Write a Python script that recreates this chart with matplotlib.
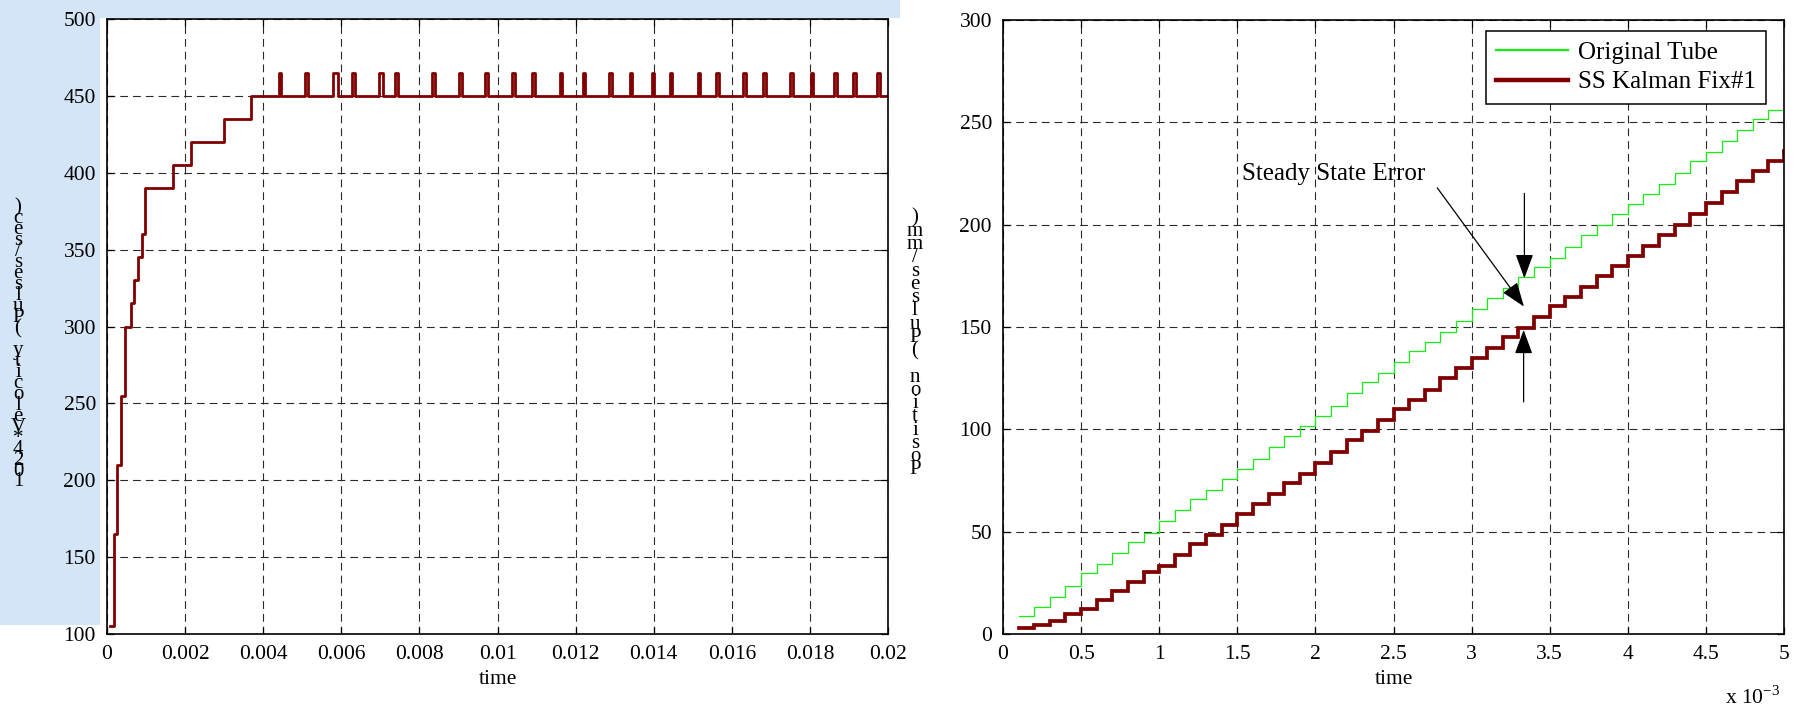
import matplotlib
matplotlib.use("Agg")
import matplotlib.pyplot as plt
from matplotlib.patches import Rectangle
from matplotlib.lines import Line2D

plt.rcParams['font.family'] = ['Liberation Serif', 'DejaVu Serif']
plt.rcParams['mathtext.fontset'] = 'custom'
plt.rcParams['mathtext.rm'] = 'Liberation Serif'

# ---------------- data: left panel (velocity) ----------------
rise_t = [0.00008, 0.000167, 0.000265, 0.000354, 0.000452, 0.000609, 0.000698,
          0.000786, 0.000884, 0.000973, 0.00168, 0.00216, 0.0030, 0.0037]
rise_v = [105, 165, 210, 255, 300, 315, 330, 345, 360, 390, 405, 420, 435, 450]
base_level = 450
pulse_level = 465
pulse_center = [0.004431, 0.005103, 0.005859, 0.006318, 0.007013, 0.007415,
                0.008354, 0.009051, 0.009726, 0.010418, 0.010923, 0.011623,
                0.012218, 0.012885, 0.013421, 0.013979, 0.014444, 0.015159,
                0.015636, 0.016328, 0.016833, 0.017533, 0.018056, 0.018649,
                0.019141, 0.019756]
pulse_width = [0.00007, 0.00007, 0.00012, 0.00007, 0.00012, 0.00007,
               0.00007, 0.00007, 0.00007, 0.00007, 0.00007, 0.00007,
               0.00007, 0.00007, 0.00007, 0.00007, 0.00007, 0.00007,
               0.00007, 0.00007, 0.00007, 0.00007, 0.00007, 0.00007,
               0.00007, 0.00007]
t_end_left = 0.02
left_xticks = [0, 0.002, 0.004, 0.006, 0.008, 0.01, 0.012, 0.014, 0.016, 0.018, 0.02]
left_xticklabels = ['0', '0.002', '0.004', '0.006', '0.008', '0.01', '0.012',
                    '0.014', '0.016', '0.018', '0.02']
left_yticks = [100, 150, 200, 250, 300, 350, 400, 450, 500]

# ---------------- data: right panel (position) ----------------
t_ms = [0.1, 0.2, 0.3, 0.4, 0.5, 0.6, 0.7, 0.8, 0.9, 1.0,
        1.1, 1.2, 1.3, 1.4, 1.5, 1.6, 1.7, 1.8, 1.9, 2.0,
        2.1, 2.2, 2.3, 2.4, 2.5, 2.6, 2.7, 2.8, 2.9, 3.0,
        3.1, 3.2, 3.3, 3.4, 3.5, 3.6, 3.7, 3.8, 3.9, 4.0,
        4.1, 4.2, 4.3, 4.4, 4.5, 4.6, 4.7, 4.8, 4.9, 5.0]
original_tube = [8.6, 13.2, 18.2, 23.6, 30.0, 34.4, 39.6, 44.8, 49.3, 55.4,
                 60.6, 65.8, 70.4, 75.6, 80.8, 85.5, 91.4, 96.7, 101.8, 106.4,
                 111.6, 117.9, 123.0, 127.5, 132.7, 138.1, 142.6, 147.5, 153.1, 159.0,
                 164.4, 169.1, 174.2, 179.2, 183.9, 189.2, 195.0, 199.7, 205.1, 210.2,
                 214.9, 219.9, 225.2, 231.3, 235.7, 241.1, 246.3, 251.7, 256.0, 261.0]
ss_kalman = [2.8, 4.4, 6.4, 9.8, 12.1, 16.8, 21.2, 25.4, 30.1, 33.2,
             38.8, 44.1, 48.5, 53.4, 58.8, 63.4, 68.4, 73.8, 78.2, 83.4,
             88.8, 94.8, 99.3, 104.6, 109.9, 114.3, 119.2, 125.0, 130.2, 134.7,
             139.9, 145.0, 149.4, 155.1, 160.3, 164.9, 169.7, 175.0, 180.0, 184.8,
             189.8, 195.0, 199.7, 205.1, 210.8, 216.2, 221.1, 226.0, 231.3, 236.2]
right_xticks = [0, 0.5, 1, 1.5, 2, 2.5, 3, 3.5, 4, 4.5, 5]
right_xticklabels = ['0', '0.5', '1', '1.5', '2', '2.5', '3', '3.5', '4', '4.5', '5']
right_yticks = [0, 50, 100, 150, 200, 250, 300]
series_labels = ['Original Tube', 'SS Kalman Fix#1']
left_ylabel = '1024*Velocity (Pulses/sec)'
right_ylabel = 'Position (Pulses/mm)'

# annotation points (ms, value)
note_text = 'Steady State Error'
note_text_pos = (1.53, 222)
note_arrow_tail = (2.78, 218)
note_arrow_tip = (3.335, 160)
down_arrow = ((3.338, 215.3), (3.338, 173.8))
up_arrow = ((3.333, 113.4), (3.333, 148.6))

# ---------------- figure ----------------
W, H = 1804, 707
fig = plt.figure(figsize=(W / 100, H / 100), dpi=100)
fig.patch.set_facecolor('white')

def fx(px):
    return px / W

def fy(py):
    return 1 - py / H

# soft background shapes (watermark impression)
bg = '#d3e5f6'
fig.patches.append(Rectangle((0, fy(625)), fx(100), 625 / H, transform=fig.transFigure,
                             facecolor=bg, edgecolor='none', zorder=-10))
fig.patches.append(Rectangle((0, fy(18)), fx(900), 18 / H, transform=fig.transFigure,
                             facecolor=bg, edgecolor='none', zorder=-10))

ax1 = fig.add_axes([fx(107), fy(634), (888 - 107) / W, (634 - 19) / H])
ax2 = fig.add_axes([fx(1003), fy(634), (1784 - 1003) / W, (634 - 20) / H])

maroon = '#800000'
green = '#14ee14'
tick_fs = 15.5

# left series: build step sequence from rise steps + pulses
times = list(rise_t)
vals = list(rise_v)
for c, w in zip(pulse_center, pulse_width):
    times += [c - w / 2, c + w / 2]
    vals += [pulse_level, base_level]
times.append(t_end_left)
vals.append(base_level)
ax1.step(times, vals, where='post', color=maroon, lw=2.0, solid_joinstyle='round')

ax1.set_xlim(0, 0.02)
ax1.set_ylim(100, 500)
ax1.set_xticks(left_xticks)
ax1.set_xticklabels(left_xticklabels)
ax1.set_yticks(left_yticks)

# right series
ax2.step(t_ms, original_tube, where='post', color=green, lw=0.9)
ax2.step(t_ms, ss_kalman, where='post', color=maroon, lw=2.7, solid_joinstyle='miter')
ax2.set_xlim(0, 5)
ax2.set_ylim(0, 300)
ax2.set_xticks(right_xticks)
ax2.set_xticklabels(right_xticklabels)
ax2.set_yticks(right_yticks)

for ax in (ax1, ax2):
    ax.set_facecolor('white')
    ax.grid(True, color='#2a2a2a', linestyle=(0, (7, 4.5)), linewidth=0.8)
    ax.set_axisbelow(True)
    ax.tick_params(direction='in', top=True, right=True, length=5, width=0.9,
                   labelsize=tick_fs, pad=8)
    for s in ax.spines.values():
        s.set_linewidth(1.2)
        s.set_color('black')
    ax.set_xlabel('time', fontsize=tick_fs, labelpad=4)

# legend
handles = [Line2D([], [], color=green, lw=1.6), Line2D([], [], color=maroon, lw=3.2)]
leg = ax2.legend(handles, series_labels, loc='upper right',
                 bbox_to_anchor=((1766 - 1003) / 781, (634 - 31) / 614),
                 borderaxespad=0, fancybox=False, framealpha=1, edgecolor='black',
                 fontsize=18, handlelength=2.9, handletextpad=0.4, labelspacing=0.3,
                 borderpad=0.4)
leg.get_frame().set_linewidth(1.1)

# annotation
ax2.text(note_text_pos[0], note_text_pos[1], note_text, fontsize=18,
         ha='left', va='baseline')
ax2.annotate('', xy=note_arrow_tip, xytext=note_arrow_tail,
             arrowprops=dict(arrowstyle='-|>,head_length=1.5,head_width=0.55',
                             color='black', lw=0.9, mutation_scale=10,
                             shrinkA=0, shrinkB=0))
for tail, tip in (down_arrow, up_arrow):
    ax2.annotate('', xy=tip, xytext=tail,
                 arrowprops=dict(arrowstyle='-|>,head_length=1.5,head_width=0.55',
                                 color='black', lw=0.9, mutation_scale=10,
                                 shrinkA=0, shrinkB=0))

# x 10^-3 multiplier
fig.text(fx(1725), fy(704), r'x 10$^{\mathregular{-3}}$', fontsize=15.5,
         ha='left', va='baseline')

# stacked (reversed) y labels, drawn character by character as in the reference
def stacked_label(text, xc, y_top, y_bot, fs):
    chars = list(text)[::-1]
    n = len(chars)
    step = (y_bot - y_top) / (n - 1)
    for i, ch in enumerate(chars):
        fig.text(fx(xc), fy(y_top + i * step), ch, fontsize=fs,
                 ha='center', va='center')

stacked_label(left_ylabel, 18, 208, 482, 15)
stacked_label(right_ylabel, 915, 218, 470, 15)

fig.savefig('out.png', dpi=100, facecolor=fig.get_facecolor())
